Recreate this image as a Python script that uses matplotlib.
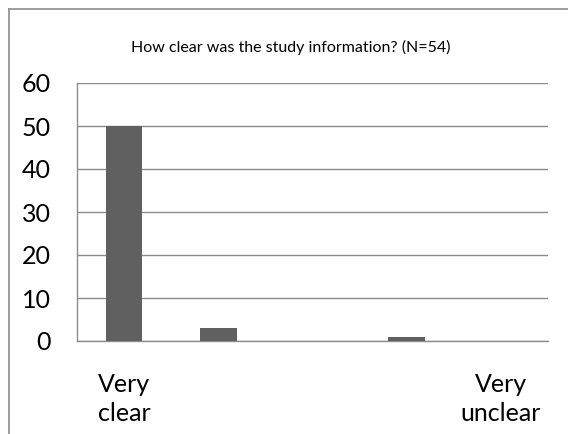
import matplotlib
matplotlib.use("Agg")
import matplotlib.pyplot as plt
from matplotlib.lines import Line2D

categories = ["Very\nclear", "", "", "", "Very\nunclear"]
values = [50, 3, 0, 1, 0]
yticks = [0, 10, 20, 30, 40, 50, 60]
title = "How clear was the study information? (N=54)"

plt.rcParams['font.family'] = ['Lato', 'DejaVu Sans']

W, H = 568, 434
fig = plt.figure(figsize=(W / 100, H / 100), dpi=100)
L, R, T, B = 77, 548, 83, 341
ax = fig.add_axes([L / W, 1 - B / H, (R - L) / W, (B - T) / H])

x = list(range(len(categories)))
ax.bar(x, values, width=0.39, color="#606060", zorder=3)
ax.set_xlim(-0.5, len(categories) - 0.5)
ax.set_ylim(0, 60)
ax.set_yticks(yticks)
ax.set_yticklabels([str(v) for v in yticks], fontsize=18)
ax.set_xticks(x)
ax.set_xticklabels(categories, fontsize=18, linespacing=1.32, va="top")
ax.tick_params(axis="y", length=0, pad=19)
ax.tick_params(axis="x", length=0, pad=23)
ax.yaxis.grid(True, color="#8c8c8c", linewidth=1.0, zorder=0)
for s in ["top", "right"]:
    ax.spines[s].set_visible(False)
for s in ["left", "bottom"]:
    ax.spines[s].set_color("#8c8c8c")
    ax.spines[s].set_linewidth(1.0)

fig.text(291 / W, 1 - 47 / H, title, ha="center", va="center", fontsize=11.5)

# outer chart frame (cropped at right and bottom)
fig.add_artist(Line2D([8.5 / W, 8.5 / W], [0, 1 - 8.5 / H], transform=fig.transFigure,
                      color="#8c8c8c", linewidth=1.2))
fig.add_artist(Line2D([8.5 / W, 1], [1 - 8.5 / H, 1 - 8.5 / H], transform=fig.transFigure,
                      color="#8c8c8c", linewidth=1.2))

fig.savefig("out.png", dpi=100)
